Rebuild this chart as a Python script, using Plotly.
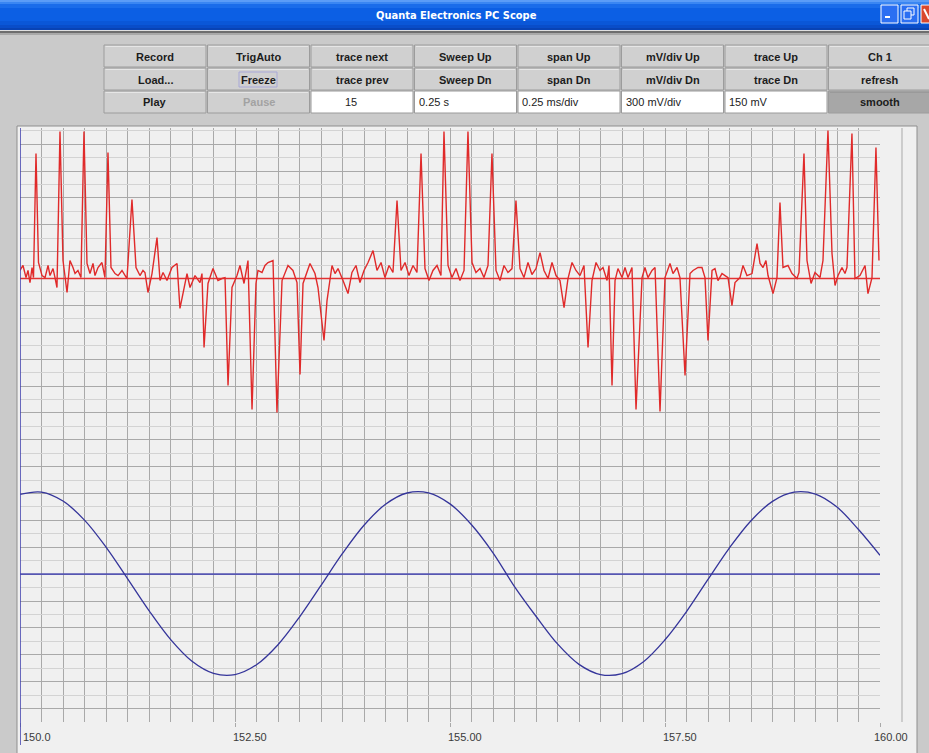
import plotly.graph_objects as go

W, H = 929, 753

# ---------------- data (time axis, trace values in grid units) ----------------
red_t = [
    150.000, 150.035, 150.070, 150.093, 150.116, 150.140, 150.157, 150.186, 150.215, 150.256,
    150.291, 150.326, 150.349, 150.384, 150.407, 150.430, 150.465, 150.500, 150.547, 150.581,
    150.616, 150.640, 150.674, 150.709, 150.744, 150.779, 150.814, 150.849, 150.872, 150.907,
    150.953, 150.988, 151.023, 151.058, 151.105, 151.140, 151.186, 151.244, 151.302, 151.349,
    151.395, 151.430, 151.453, 151.488, 151.535, 151.593, 151.628, 151.663, 151.709, 151.767,
    151.826, 151.860, 151.895, 151.942, 151.977, 152.035, 152.093, 152.116, 152.140, 152.186,
    152.244, 152.302, 152.349, 152.384, 152.419, 152.465, 152.523, 152.558, 152.605, 152.651,
    152.698, 152.744, 152.767, 152.814, 152.849, 152.884, 152.942, 152.988, 153.047, 153.116,
    153.174, 153.221, 153.256, 153.291, 153.372, 153.430, 153.465, 153.535, 153.570, 153.628,
    153.663, 153.698, 153.756, 153.814, 153.860, 153.907, 153.953, 154.000, 154.047, 154.105,
    154.151, 154.198, 154.244, 154.291, 154.337, 154.384, 154.430, 154.477, 154.523, 154.570,
    154.616, 154.663, 154.709, 154.756, 154.802, 154.849, 154.895, 154.930, 154.977, 155.023,
    155.070, 155.116, 155.163, 155.209, 155.256, 155.302, 155.349, 155.395, 155.442, 155.488,
    155.535, 155.581, 155.628, 155.674, 155.721, 155.767, 155.814, 155.860, 155.907, 155.953,
    156.000, 156.047, 156.093, 156.140, 156.186, 156.233, 156.279, 156.326, 156.372, 156.419,
    156.465, 156.512, 156.558, 156.605, 156.651, 156.698, 156.744, 156.779, 156.826, 156.849,
    156.884, 156.919, 156.953, 157.000, 157.035, 157.070, 157.116, 157.163, 157.233, 157.267,
    157.302, 157.349, 157.384, 157.442, 157.500, 157.558, 157.593, 157.640, 157.674, 157.733,
    157.791, 157.826, 157.884, 157.930, 157.965, 158.000, 158.047, 158.081, 158.116, 158.163,
    158.198, 158.233, 158.279, 158.314, 158.372, 158.407, 158.453, 158.512, 158.570, 158.605,
    158.640, 158.674, 158.698, 158.756, 158.802, 158.837, 158.872, 158.930, 158.977, 159.035,
    159.058, 159.116, 159.151, 159.198, 159.244, 159.302, 159.337, 159.395, 159.442, 159.477,
    159.512, 159.558, 159.593, 159.616, 159.674, 159.709, 159.767, 159.826, 159.860, 159.907,
    159.953, 159.988,
]
red_v = [
    0.60, 0.97, 0.07, 0.60, -0.30, 0.82, 0.07, 9.30, 1.19, 0.22,
    0.07, 0.97, 0.22, 0.74, 0.07, -0.67, 10.94, 1.34, -1.04, 1.34,
    0.82, 0.37, 0.60, 0.07, 10.94, 1.12, 0.37, 1.12, 0.22, 0.82,
    1.19, 0.07, 9.38, 0.82, 0.37, 0.22, 0.60, 0.00, 5.88, 0.82,
    0.22, 0.60, 0.45, -1.04, 0.37, 3.05, -0.15, 0.45, -0.15, 0.82,
    1.12, -2.23, -1.12, 0.37, -0.67, 0.22, -0.30, 0.37, -5.13, -0.37,
    0.74, -0.15, 0.00, 0.07, -7.96, -0.67, 0.22, 0.97, -0.37, 1.34,
    -9.75, -0.37, 0.60, 0.45, 0.97, 1.19, 1.34, -9.97, -0.15, 0.97,
    0.60, -0.30, -7.14, -0.37, 1.12, 0.37, -0.67, -4.61, -1.64, 0.97,
    0.37, 0.74, -0.15, -1.12, 0.45, 0.97, -0.30, 0.60, 1.19, 2.08,
    0.60, 1.19, 0.07, 0.97, 0.45, 5.80, 0.60, 1.19, 0.22, 0.97,
    0.45, 9.30, 0.74, -0.15, 0.60, 0.97, 0.22, 10.94, 0.97, 0.07,
    0.74, -0.15, 0.60, 10.94, 1.19, 0.45, 0.74, 0.07, 0.97, 9.30,
    0.60, -0.15, 0.97, 0.45, 0.74, 5.80, 0.74, 0.07, 1.19, 0.30,
    0.74, 1.93, 0.60, 0.00, 1.19, 0.22, -0.15, -2.16, 0.00, 1.19,
    0.60, 0.22, 0.97, -5.13, -0.15, 1.19, 0.60, 0.82, -0.15, 0.97,
    -7.96, -0.15, 0.74, 0.07, 0.82, 0.07, 0.82, -9.75, 0.07, 0.82,
    0.07, 0.60, 0.82, -9.90, 0.07, 1.12, 0.37, 0.82, 0.07, -7.22,
    0.37, 0.60, 0.82, 0.82, 0.07, -4.61, 0.60, 0.74, -0.15, 0.37,
    0.22, 0.07, -2.01, -0.30, 0.07, 0.97, 0.22, 0.37, 2.60, 1.12,
    0.82, 1.34, 0.22, -1.12, 0.07, 5.65, 0.82, 0.97, 0.37, 0.00,
    0.45, 9.30, 1.34, -0.37, 0.45, 0.07, 1.34, 11.01, 1.86, -0.52,
    0.22, 0.82, 0.37, 0.82, 10.79, 0.00, 0.22, 0.97, -1.12, 0.07,
    9.75, 1.34,
]
blue_t = [
    150.00, 150.25, 150.50, 150.75, 151.00, 151.25, 151.50, 151.75, 152.00, 152.25,
    152.50, 152.75, 153.00, 153.25, 153.50, 153.75, 154.00, 154.25, 154.50, 154.75,
    155.00, 155.25, 155.50, 155.75, 156.00, 156.25, 156.50, 156.75, 157.00, 157.25,
    157.50, 157.75, 158.00, 158.25, 158.50, 158.75, 159.00, 159.25, 159.50, 159.75,
    160.00,
]
blue_v = [
    16.94, 17.11, 16.44, 15.02, 13.01, 10.67, 8.29, 6.15, 4.52, 3.62,
    3.53, 4.26, 5.75, 7.81, 10.16, 12.54, 14.64, 16.20, 17.04, 17.05,
    16.23, 14.68, 12.59, 10.08, 7.87, 5.81, 4.29, 3.53, 3.60, 4.49,
    6.12, 8.22, 10.61, 12.96, 14.98, 16.42, 17.10, 16.96, 15.99, 14.32,
    12.40,
]
RED_POS = 33.0    # trace position of channel 1 (grid units)
BLUE_POS = 11.0   # trace position of reference channel

x_ticks = [150.0, 152.5, 155.0, 157.5, 160.0]
x_tick_labels = ["150.0", "152.50", "155.00", "157.50", "160.00"]

title_text = "Quanta Electronics PC Scope"
row1 = ["Record", "TrigAuto", "trace next", "Sweep Up", "span Up", "mV/div Up", "trace Up", "Ch 1"]
row2 = ["Load...", "Freeze", "trace prev", "Sweep Dn", "span Dn", "mV/div Dn", "trace Dn", "refresh"]
row3 = ["Play", "Pause", "15", "0.25 s", "0.25 ms/div", "300 mV/div", "150 mV", "smooth"]

# ---------------- helpers for UI chrome (paper coordinates) ----------------
UI_FONT = "Liberation Sans, Arial, DejaVu Sans, sans-serif"
TITLE_FONT = "DejaVu Sans Condensed, Liberation Sans Narrow, Liberation Sans, sans-serif"
shapes, annots = [], []


def X(x):
    return x / W


def Y(y):
    return 1 - y / H


def rect(x0, y0, x1, y1, fill, line=None, lw=1, layer="below"):
    shapes.append(dict(type="rect", xref="paper", yref="paper",
                       x0=X(x0), y0=Y(y1), x1=X(x1), y1=Y(y0),
                       fillcolor=fill, layer=layer,
                       line=dict(color=line if line else fill, width=lw if line else 0)))


def seg(x0, y0, x1, y1, color, lw=1, layer="below"):
    shapes.append(dict(type="line", xref="paper", yref="paper",
                       x0=X(x0), y0=Y(y0), x1=X(x1), y1=Y(y1),
                       line=dict(color=color, width=lw), layer=layer))


def text(x, y, s, size=11, color="#1c1c1c", bold=True, anchor="center", family=UI_FONT):
    annots.append(dict(xref="paper", yref="paper", x=X(x), y=Y(y),
                       text=f"<b>{s}</b>" if bold else s, showarrow=False,
                       xanchor=anchor, yanchor="middle",
                       font=dict(size=size, color=color, family=family)))


APP_BG = "#cacaca"

# title bar (XP style gradient in bands)
bands = [(0, 2, "#5b9cf7"), (2, 4, "#3a86f2"), (4, 8, "#1a6cea"), (8, 21, "#0c5fe4"),
         (21, 25, "#0a57d8"), (25, 28, "#094dc9"), (28, 30, "#0843b5")]
for y0, y1, c in bands:
    rect(0, y0, W, y1, c)
rect(0, 30, W, 31, "#e0e0e0")
rect(0, 31, W, 33, "#6e6e6e")
rect(0, 33, W, 35, "#a9a9a9")
text(456, 15.5, title_text, size=11, color="#ffffff", family=TITLE_FONT)

# window controls
rect(881, 5, 898, 23, "#2b6ff2", "#ffffff", 1)
rect(885, 16, 890, 18, "#ffffff")
rect(901, 5, 918, 23, "#2b6ff2", "#ffffff", 1)
rect(907, 8, 914, 15, "rgba(0,0,0,0)", "#ffffff", 1)
rect(904, 11, 911, 19, "#2b6ff2", "#ffffff", 1)
rect(921, 5, 938, 23, "#d9482f", "#ffffff", 1)
seg(924, 9, 929, 19, "#ffffff", 2)

# button panel
col_x0 = [104, 207.5, 311, 414.5, 518, 621.5, 725, 828.5]
col_w = 102
rows_y = [(45, 67), (68, 90), (91, 113)]
for r, labels in enumerate([row1, row2, row3]):
    y0, y1 = rows_y[r]
    for c, lab in enumerate(labels):
        x0 = col_x0[c]
        x1 = x0 + col_w
        is_field = (r == 2 and 2 <= c <= 6)
        if is_field:
            rect(x0, y0, x1, y1, "#ffffff", "#9a9a9a", 1)
            if c == 2:
                text(351, (y0 + y1) / 2 + 0.5, lab, bold=False, color="#222222")
            else:
                text(x0 + 2, (y0 + y1) / 2 + 0.5, lab, bold=False, color="#222222", anchor="left")
        else:
            face = "#a7a7a7" if lab == "smooth" else "#d0d0d0"
            rect(x0, y0, x1, y1, face, "#9c9c9c", 1)
            seg(x0 + 1.5, y0 + 1.5, x1 - 1.5, y0 + 1.5, "#e6e6e6" if lab != "smooth" else "#9a9a9a", 1)
            col = "#a2a2a2" if lab == "Pause" else "#1c1c1c"
            text((x0 + x1) / 2, (y0 + y1) / 2 + 0.5, lab, color=col)
            if lab == "Freeze":
                rect(239, 72, 277, 87, "rgba(0,0,0,0)", "#a8a8d8", 1)

# scope panel
rect(17, 126, 917, H + 2, "#f0f0f0", "#8e8e8e", 1)
rect(18, 127, 916, H + 2, "#f0f0f0")
seg(902, 128, 902, 722, "#a9a9a9", 1)   # right-hand frame line of the grid area

# ---------------- figure ----------------
fig = go.Figure()

fig.add_trace(go.Scatter(x=[blue_t[0], blue_t[-1]], y=[BLUE_POS, BLUE_POS], mode="lines",
                         line=dict(color="#5656b2", width=1.6), hoverinfo="skip"))
fig.add_trace(go.Scatter(x=[red_t[0], 160.0], y=[RED_POS, RED_POS], mode="lines",
                         line=dict(color="#e23232", width=1.6), hoverinfo="skip"))
fig.add_trace(go.Scatter(x=blue_t, y=blue_v, mode="lines", line_shape="spline",
                         line=dict(color="#34349a", width=1.3), name="ref"))
fig.add_trace(go.Scatter(x=red_t, y=[RED_POS + v for v in red_v], mode="lines",
                         line=dict(color="#e02a2a", width=1.4), name="Ch 1"))

# left axis line of the scope grid (extends below the grid)
shapes.append(dict(type="line", xref="x", yref="paper", x0=150, x1=150,
                   y0=Y(745), y1=Y(128), line=dict(color="#4646b0", width=1.6), layer="above"))

# x tick labels
for i, (v, lab) in enumerate(zip(x_ticks, x_tick_labels)):
    shift = 1 if i == 0 else (-8 if i == len(x_ticks) - 1 else -4)
    annots.append(dict(xref="x", yref="paper", x=v, y=Y(737), text=lab, showarrow=False,
                       xanchor="left", yanchor="middle", xshift=shift,
                       font=dict(size=11, color="#3a3a3a", family=UI_FONT)))

fig.update_layout(
    width=W, height=H, margin=dict(l=0, r=0, t=0, b=0),
    paper_bgcolor=APP_BG, plot_bgcolor="#f0f0f0",
    showlegend=False, shapes=shapes, annotations=annots,
    xaxis=dict(domain=[X(20), X(880)], range=[150, 160], tickvals=x_ticks,
               showticklabels=False, ticks="outside", ticklen=4, tickcolor="#a9a9a9",
               showgrid=True, gridcolor="#a9a9a9", gridwidth=1, zeroline=False,
               showline=False, fixedrange=True,
               minor=dict(tick0=150, dtick=0.25, showgrid=True, gridcolor="#a9a9a9",
                          gridwidth=1, ticks="")),
    yaxis=dict(domain=[Y(722), Y(128)], range=[0, 44.2], tick0=1, dtick=2,
               showticklabels=False, ticks="", showgrid=True, gridcolor="#a9a9a9",
               gridwidth=1, zeroline=False, showline=False, fixedrange=True,
               minor=dict(tick0=0, dtick=1, showgrid=True, gridcolor="#d3d3d3",
                          gridwidth=1, ticks="")),
)

fig.write_html("out.html", config={"displayModeBar": False},
               post_script="document.body.style.margin='0px';document.body.style.overflow='hidden';")
